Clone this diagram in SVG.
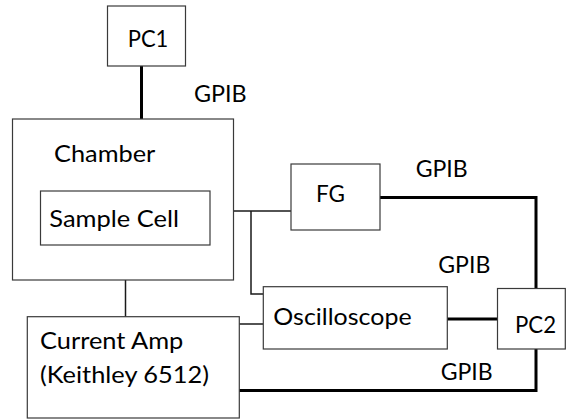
<svg xmlns="http://www.w3.org/2000/svg" width="566" height="419" viewBox="0 0 566 419">
<style>
.box{fill:#fff;stroke:#3a3a3a;stroke-width:1.2}
.t{font-family:Lato,"Open Sans","Liberation Sans",sans-serif;font-size:22.5px;fill:#000}
.thin{fill:none;stroke:#1a1a1a;stroke-width:1.5}
.thick{fill:none;stroke:#000;stroke-width:3}
</style>
<rect width="566" height="419" fill="#fff"/>
<g id="connectors">
<line class="thick" x1="141.5" y1="66" x2="141.5" y2="119"/>
<line class="thin" x1="210" y1="211" x2="291" y2="211"/>
<polyline class="thin" points="251,211 251,294 263,294"/>
<line class="thin" x1="125.5" y1="245" x2="125.5" y2="317"/>
<line class="thin" x1="239" y1="324" x2="263" y2="324"/>
<polyline class="thick" points="380,197.5 536,197.5 536,288"/>
<line class="thick" x1="447" y1="319" x2="497" y2="319"/>
<polyline class="thick" points="536,349 536,390.5 239,390.5"/>
</g>
<g id="pc1">
<rect class="box" x="107.5" y="6" width="78" height="60"/>
<text class="t" x="127.7" y="47" textLength="40.6" lengthAdjust="spacingAndGlyphs">PC1</text>
</g>
<g id="chamber">
<rect class="box" x="12.5" y="119" width="221" height="161"/>
<text class="t" x="54" y="162" textLength="101.3" lengthAdjust="spacingAndGlyphs">Chamber</text>
</g>
<g id="samplecell">
<rect class="box" x="40.5" y="191" width="169.5" height="54"/>
<text class="t" x="49.3" y="226.7" textLength="129.7" lengthAdjust="spacingAndGlyphs">Sample Cell</text>
</g>
<g id="fg">
<rect class="box" x="291" y="164" width="89" height="66"/>
<text class="t" x="316" y="202.3" textLength="29" lengthAdjust="spacingAndGlyphs">FG</text>
</g>
<g id="oscilloscope">
<rect class="box" x="263.3" y="286.7" width="184" height="62.3"/>
<text class="t" x="273.3" y="325" textLength="138.3" lengthAdjust="spacingAndGlyphs">Oscilloscope</text>
</g>
<g id="pc2">
<rect class="box" x="497.5" y="288.5" width="67.8" height="60.5"/>
<text class="t" x="515" y="332.7" textLength="41" lengthAdjust="spacingAndGlyphs">PC2</text>
</g>
<g id="currentamp">
<rect class="box" x="27.3" y="316.7" width="212" height="101.3"/>
<text class="t" x="40" y="349" textLength="143.3" lengthAdjust="spacingAndGlyphs">Current Amp</text>
<text class="t" x="40" y="383" textLength="169" lengthAdjust="spacingAndGlyphs">(Keithley 6512)</text>
</g>
<g id="labels">
<text class="t" x="194" y="101.7" textLength="52.7" lengthAdjust="spacingAndGlyphs">GPIB</text>
<text class="t" x="415.7" y="176.7" textLength="52" lengthAdjust="spacingAndGlyphs">GPIB</text>
<text class="t" x="438.3" y="273.3" textLength="52" lengthAdjust="spacingAndGlyphs">GPIB</text>
<text class="t" x="440.7" y="380" textLength="52" lengthAdjust="spacingAndGlyphs">GPIB</text>
</g>
</svg>
